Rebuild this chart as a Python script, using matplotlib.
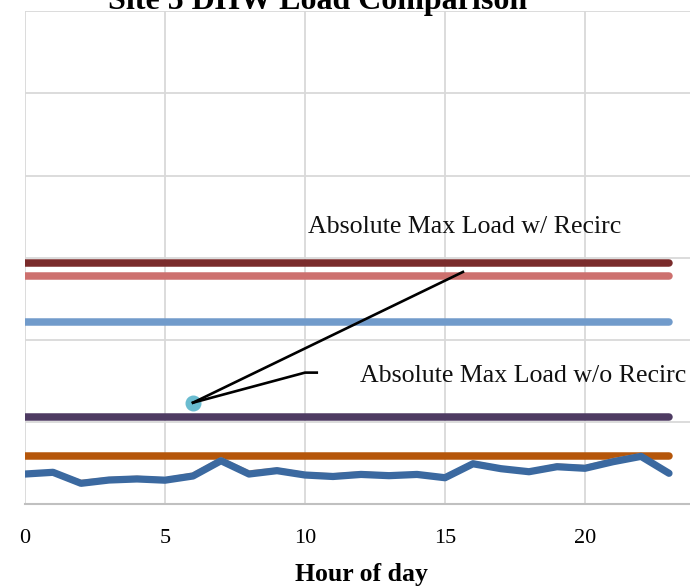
import matplotlib
matplotlib.use("Agg")
from matplotlib import pyplot as plt

# hourly DHW load (arbitrary units)
hours = list(range(24))
measured_load = [3.65, 3.86, 2.52, 2.92, 3.05, 2.9, 3.41, 5.27, 3.65, 4.06, 3.53,
                 3.35, 3.6, 3.45, 3.6, 3.2, 4.9, 4.3, 3.93, 4.54, 4.35, 5.15,
                 5.8, 3.74]
measured_load_alt = [3.75, 3.95, 2.8, 3.15, 3.3, 3.1, 3.7, 5.55, 3.95, 4.3, 3.75,
                     3.6, 3.85, 3.65, 3.75, 3.35, 5.15, 4.5, 4.1, 4.8, 4.6, 5.45,
                     6.05, 3.9]

# constant reference loads
max_load_recirc_hi = 29.35
max_load_recirc = 27.8
design_load = 22.2
max_load_no_recirc = 10.6
avg_peak_load = 5.88

label_hour = 6
label_value = 12.34

const_series = [
    (max_load_recirc_hi, '#7A2B2B'),
    (max_load_recirc, '#CD706E'),
    (design_load, '#719BCB'),
    (max_load_no_recirc, '#4E3B62'),
    (avg_peak_load, '#B5560A'),
]

plt.rcParams['font.family'] = ['Liberation Serif', 'DejaVu Serif']

fig = plt.figure(figsize=(6.9, 5.87), dpi=100)
ax = fig.add_axes([25 / 690, 83 / 587, 700 / 690, 492.7 / 587])

for val, col in const_series:
    ax.plot([hours[0], hours[-1]], [val, val], color=col, lw=5.4,
            solid_capstyle='round', zorder=3)

ax.plot(hours, measured_load_alt, color='#F5A66B', lw=1.8, zorder=4)
ax.plot(hours, measured_load, color='#3B69A0', lw=5.2,
        solid_capstyle='round', solid_joinstyle='round', zorder=5)

ax.plot([label_hour], [label_value], 'o', color='#6ABCD0', ms=10.5, zorder=6)

# data labels with leader lines (Excel style)
ax.plot([label_hour, 15.64], [label_value, 28.26], color='black', lw=1.9, zorder=7)
ax.plot([label_hour, 10.0, 10.42], [label_value, 16.0, 16.0], color='black',
        lw=1.9, zorder=7)
ax.text(10.1, 32.97, 'Absolute Max Load w/ Recirc', fontsize=18.6,
        va='baseline', ha='left', color='#111111')
ax.text(11.96, 14.9, 'Absolute Max Load w/o Recirc', fontsize=18.6,
        va='baseline', ha='left', color='#111111')

ax.set_xlim(0, 25)
ax.set_ylim(0, 60)
ax.set_xticks([0, 5, 10, 15, 20])
ax.set_yticks(range(0, 61, 10))
ax.set_yticklabels([])
ax.grid(True, color='#D9D9D9', lw=1.3, zorder=0)
ax.set_axisbelow(True)
ax.tick_params(axis='both', length=0, labelsize=16, pad=18)
for side in ['top', 'right', 'left']:
    ax.spines[side].set_visible(False)
ax.spines['bottom'].set_color('#C0C0C0')
ax.spines['bottom'].set_linewidth(1.5)

ax.set_xlabel('Hour of day', fontsize=18.5, fontweight='bold')
ax.xaxis.set_label_coords((361 - 25) / 700, -0.12)
fig.text(318 / 690, 1 - 9 / 587, 'Site 5 DHW Load Comparison', fontsize=23,
         fontweight='bold', ha='center', va='baseline')

fig.savefig('out.png', dpi=100)
